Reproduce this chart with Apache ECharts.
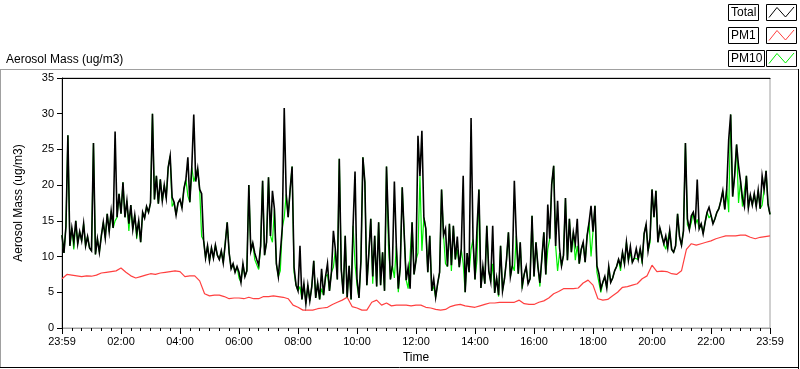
<!DOCTYPE html>
<html><head><meta charset="utf-8">
<script src="https://cdn.jsdelivr.net/npm/echarts@6/dist/echarts.min.js"></script>
<style>html,body{margin:0;padding:0;background:#fff}#c{width:800px;height:369px}</style>
</head><body><div id="c"></div>
<script>
// x-axis tick labels (every 120 minutes from 23:59 to 23:59)
const timeLabels = ['23:59','02:00','04:00','06:00','08:00','10:00','12:00','14:00','16:00','18:00','20:00','22:00','23:59'];
const yTicks = [0, 5, 10, 15, 20, 25, 30, 35];
const seriesNames = ['Total', 'PM1', 'PM10'];
// sampling step (minutes) of each series
const totalStep = 4;
const pm1Step = 10;

const total = [
13.0,10.5,14.2,27.0,11.5,14.0,12.0,15.0,11.8,13.5,12.2,14.6,11.5,12.8,11.2,
10.8,25.9,10.3,12.5,10.6,12.9,14.8,12.6,16.0,13.5,16.4,14.0,27.5,15.5,18.8,
16.0,20.4,15.5,17.8,14.6,17.2,13.8,15.8,13.2,15.0,12.0,16.2,15.4,17.0,16.2,
17.5,30.0,18.0,21.3,17.4,20.8,17.8,20.0,18.2,22.5,24.1,18.3,17.6,15.8,17.5,
18.0,16.8,19.5,20.8,23.9,17.6,22.5,29.9,20.5,22.3,19.4,18.8,12.3,9.8,11.5,
9.4,11.2,9.8,11.6,10.2,9.6,10.8,9.1,11.8,14.8,10.5,8.3,9.0,7.8,8.6,
7.8,6.4,9.0,7.2,8.0,20.0,10.8,11.9,10.5,9.6,8.8,11.5,20.6,10.2,12.0,
21.1,12.9,19.2,16.7,9.0,7.2,10.5,14.0,30.8,18.7,15.5,19.4,22.6,8.5,6.0,
5.2,11.5,4.0,6.2,3.4,6.0,3.8,5.8,9.4,4.2,6.3,4.0,8.3,4.6,7.2,
9.0,5.2,7.8,13.6,11.0,6.8,23.7,8.2,4.8,12.9,4.3,8.7,4.0,14.3,21.9,
6.9,4.2,9.4,23.9,20.4,6.0,10.4,15.3,7.2,12.9,5.8,14.8,6.0,10.6,5.2,
22.6,14.3,6.8,8.8,20.5,11.5,5.5,8.6,19.7,13.2,6.7,8.5,5.5,14.8,7.5,
9.5,26.9,21.3,27.6,15.5,13.9,7.8,12.9,5.2,6.9,4.3,6.2,7.8,19.4,13.0,
13.9,8.6,14.6,8.8,14.3,9.6,12.8,8.5,11.0,21.3,5.0,10.5,7.8,29.4,12.4,
6.8,13.9,19.4,5.6,8.6,6.2,14.3,8.0,6.5,14.3,4.9,7.0,4.6,11.5,5.2,
6.9,9.5,13.4,7.2,8.8,20.6,12.9,7.6,12.0,5.9,7.5,8.6,6.2,6.9,15.7,
7.2,12.0,8.6,6.3,9.8,13.4,7.5,17.3,12.5,20.1,22.7,11.5,17.8,11.2,8.7,
10.2,18.2,9.5,15.3,10.6,13.4,11.8,15.3,9.0,11.0,12.0,9.2,12.9,14.8,17.1,
13.5,17.1,8.7,7.6,5.5,6.4,7.2,5.6,8.6,6.4,7.0,8.0,8.6,9.6,8.7,
10.6,9.0,12.0,9.5,11.4,9.2,9.8,11.1,9.6,11.1,9.4,13.2,14.5,10.8,12.6,
19.4,15.5,19.2,12.0,14.0,13.9,11.8,12.9,11.2,13.6,11.0,10.6,11.5,16.0,12.8,
11.6,13.6,25.9,15.3,13.8,15.7,16.2,14.5,20.8,13.9,14.6,13.2,14.8,16.2,16.9,
15.8,14.6,15.3,16.2,16.7,17.8,19.2,16.6,19.5,26.4,29.9,18.4,21.3,25.7,22.7,
20.6,18.2,17.0,21.3,16.8,18.6,17.2,18.8,17.0,19.3,16.7,21.3,19.4,22.0,17.3,15.9
];

const pm10 = [
13.0,10.5,14.2,27.0,11.5,14.0,11.0,15.0,11.8,13.5,12.2,14.6,11.5,12.8,11.2,
10.8,25.9,10.3,12.5,10.6,12.9,14.8,12.6,16.0,13.5,16.4,14.0,15.0,15.5,18.8,
16.0,20.4,15.5,17.8,13.6,17.2,13.8,15.8,12.5,15.0,12.0,16.2,15.4,17.0,16.2,
17.5,30.0,18.0,21.3,17.4,20.8,17.8,20.0,18.2,22.5,24.1,17.0,17.6,15.8,17.5,
18.0,16.8,19.5,20.8,18.5,17.6,22.5,20.5,20.5,22.3,19.4,12.8,12.3,9.8,11.5,
9.4,11.2,9.8,11.6,10.2,9.6,10.8,9.1,9.2,14.8,10.5,8.3,9.0,7.8,8.6,
7.0,6.4,9.0,7.2,8.0,20.0,10.8,11.9,9.6,9.6,8.2,11.5,20.6,10.2,12.0,
21.1,12.9,12.0,16.7,9.0,7.2,8.0,14.0,15.5,18.7,15.5,19.4,22.6,7.8,6.0,
5.2,5.8,4.0,6.2,3.4,6.0,3.8,5.8,9.4,4.2,6.3,4.0,5.5,4.6,7.2,
7.5,5.2,7.8,8.5,11.0,6.8,23.7,8.2,4.8,12.9,4.3,8.7,4.0,14.3,9.0,
6.0,4.2,9.4,23.9,20.4,6.0,10.4,15.3,6.2,12.9,5.8,14.8,6.0,10.6,5.2,
22.6,11.5,6.8,8.8,7.0,11.5,5.0,8.6,19.7,13.2,6.7,5.5,5.5,14.8,7.5,
9.5,10.5,21.3,10.8,15.5,13.9,7.8,12.9,5.2,5.8,4.3,6.2,7.8,19.4,13.0,
9.0,8.6,14.6,8.0,14.3,9.6,11.0,8.5,11.0,9.0,5.0,10.5,7.8,11.0,12.4,
6.8,9.5,19.4,5.6,8.6,6.2,14.3,8.0,6.5,9.0,4.9,7.0,4.4,11.5,5.2,
6.9,9.5,13.4,7.2,8.8,8.0,12.9,7.6,12.0,5.5,7.5,8.6,6.2,6.9,15.7,
7.2,12.0,8.6,5.8,9.8,13.4,7.5,11.0,12.5,20.1,22.7,11.5,8.0,10.5,8.7,
10.2,18.2,9.5,15.3,10.6,13.4,9.5,11.5,9.0,11.0,12.0,9.2,12.9,14.8,10.0,
13.5,17.1,7.8,7.6,5.0,6.4,7.2,5.6,8.6,6.4,7.0,8.0,8.6,9.6,8.0,
10.6,9.0,12.0,9.5,10.5,9.2,9.8,9.8,9.6,11.1,9.0,13.2,14.5,10.8,12.0,
19.4,15.5,19.2,12.0,14.0,13.9,11.8,11.0,11.2,13.6,11.0,10.6,11.5,16.0,12.8,
11.6,13.6,25.9,14.5,13.8,14.8,16.2,14.5,15.2,13.9,14.6,13.2,14.8,16.2,15.4,
15.8,14.6,15.3,16.2,16.7,17.8,19.2,16.6,19.5,16.2,29.9,18.4,21.3,25.7,17.5,
20.6,17.0,17.0,21.3,16.8,18.6,17.2,18.8,17.0,19.3,16.7,17.2,19.4,22.0,17.3,15.9
];

const pm1 = [
6.9,7.5,7.4,7.3,7.2,7.3,7.25,7.4,7.7,7.8,7.9,8.0,8.4,7.8,7.3,7.0,7.2,7.4,7.6,7.5,7.7,7.8,7.9,8.0,7.9,7.2,7.3,7.3,6.6,4.8,
4.5,4.6,4.6,4.4,4.1,4.2,4.2,4.1,4.3,4.1,4.1,
4.4,4.4,4.5,4.4,4.3,4.1,3.2,2.9,2.5,2.5,2.5,2.7,2.8,2.9,3.3,3.6,3.9,4.3,3.0,2.8,2.5,2.5,3.6,3.9,3.2,3.5,3.1,3.2,3.2,3.2,3.1,3.2,3.2,2.9,2.8,2.6,2.5,2.6,3.0,3.2,3.3,
3.1,3.0,2.9,3.1,3.3,3.5,3.5,3.6,3.6,3.6,3.6,3.9,3.4,3.3,3.3,3.6,3.8,4.2,4.8,5.1,5.5,5.5,5.5,5.6,6.3,6.7,6.0,4.1,3.9,4.0,4.5,5.0,5.7,5.8,6.0,6.2,6.9,7.3,8.8,
7.9,7.95,7.9,7.6,7.5,8.0,11.0,11.8,11.6,11.8,12.0,12.2,12.5,12.7,12.9,12.9,12.9,13.0,13.0,12.7,12.5,12.7,12.8,12.9
];

const colors = { Total: '#000000', PM1: '#ff4040', PM10: '#00ee00' };
const FONT = "'Liberation Sans', Arial, sans-serif";

function toXY(arr, step) { return arr.map((v, i) => [i * step, v]); }

const chart = echarts.init(document.getElementById('c'), null, { renderer: 'canvas' });

// legend graphics (LabVIEW-style plot legend)
const legendGraphics = [];
const textBoxW = { Total: 30, PM1: 30, PM10: 36 };
const rowY = [4, 27, 50];
seriesNames.forEach((n, k) => {
  const y = rowY[k];
  legendGraphics.push({ type: 'rect', shape: { x: 728.5, y: y + 0.5, width: textBoxW[n], height: 16 },
    style: { fill: '#fff', stroke: '#000', lineWidth: 1 } });
  legendGraphics.push({ type: 'text', x: 731, y: y + 9, style: { text: n, font: '12px ' + FONT, fill: '#000', verticalAlign: 'middle' } });
  legendGraphics.push({ type: 'rect', shape: { x: 766.5, y: y + 0.5, width: 30, height: 16 },
    style: { fill: '#fff', stroke: '#000', lineWidth: 1 } });
  legendGraphics.push({ type: 'polyline', shape: { points: [[769, y + 13.5], [777, y + 3.5], [785.5, y + 13], [794, y + 3]] },
    style: { stroke: colors[n], lineWidth: 1, fill: null } });
});

const option = {
  animation: false,
  backgroundColor: '#ffffff',
  textStyle: { fontFamily: FONT },
  grid: { left: 62, top: 78, width: 708, height: 251, show: true, borderColor: '#a0a0a0', borderWidth: 1, backgroundColor: '#fff' },
  xAxis: [{
    type: 'value', min: 0, max: 1440, interval: 120,
    name: 'Time', nameLocation: 'middle', nameGap: 24,
    nameTextStyle: { color: '#000', fontSize: 12, fontFamily: FONT },
    axisLine: { show: true, onZero: false, lineStyle: { color: '#a0a0a0', width: 1 } },
    axisTick: { show: true, length: 6, lineStyle: { color: '#000' } },
    minorTick: { show: true, splitNumber: 6, length: 3, lineStyle: { color: '#000' } },
    axisLabel: { color: '#000', fontSize: 11, fontFamily: FONT, margin: 8,
      formatter: v => timeLabels[Math.round(v / 120)] },
    splitLine: { show: false }
  }, {
    type: 'value', min: 0, max: 1440, position: 'top',
    axisLine: { show: true, onZero: false, lineStyle: { color: '#000', width: 1 } },
    axisTick: { show: false }, axisLabel: { show: false }, splitLine: { show: false }
  }],
  yAxis: {
    type: 'value', min: yTicks[0], max: yTicks[yTicks.length - 1], interval: 5,
    name: 'Aerosol Mass (ug/m3)', nameLocation: 'middle', nameGap: 37,
    nameTextStyle: { color: '#000', fontSize: 12, fontFamily: FONT },
    axisLine: { show: true, onZero: false, lineStyle: { color: '#000', width: 1 } },
    axisTick: { show: true, length: 5, lineStyle: { color: '#000' } },
    axisLabel: { color: '#000', fontSize: 11, fontFamily: FONT, margin: 8 },
    splitLine: { show: false }
  },
  series: [
    { name: 'PM1', type: 'line', data: toXY(pm1, pm1Step), showSymbol: false, symbol: 'none',
      lineStyle: { color: colors.PM1, width: 1.2 }, itemStyle: { color: colors.PM1 }, z: 2 },
    { name: 'PM10', type: 'line', data: toXY(pm10, totalStep), showSymbol: false, symbol: 'none',
      lineStyle: { color: colors.PM10, width: 1.2 }, itemStyle: { color: colors.PM10 }, z: 3 },
    { name: 'Total', type: 'line', data: toXY(total, totalStep), showSymbol: false, symbol: 'none',
      lineStyle: { color: colors.Total, width: 1.6, join: 'miter' }, itemStyle: { color: colors.Total }, z: 4 }
  ],
  graphic: [
    { type: 'text', x: 6, y: 60, style: { text: 'Aerosol Mass (ug/m3)', font: '12px ' + FONT, fill: '#000', verticalAlign: 'middle' } },
    { type: 'line', shape: { x1: 0, y1: 69.5, x2: 798, y2: 69.5 }, style: { stroke: '#a0a0a0', lineWidth: 1 } },
    { type: 'line', shape: { x1: 0.5, y1: 69.5, x2: 0.5, y2: 368 }, style: { stroke: '#a0a0a0', lineWidth: 1 } },
    { type: 'line', shape: { x1: 798.5, y1: 69, x2: 798.5, y2: 369 }, style: { stroke: '#000', lineWidth: 1 } },
    { type: 'line', shape: { x1: 0, y1: 367.5, x2: 799, y2: 367.5 }, style: { stroke: '#000', lineWidth: 1 } }
  ].concat(legendGraphics)
};
chart.setOption(option);
</script>
</body></html>
